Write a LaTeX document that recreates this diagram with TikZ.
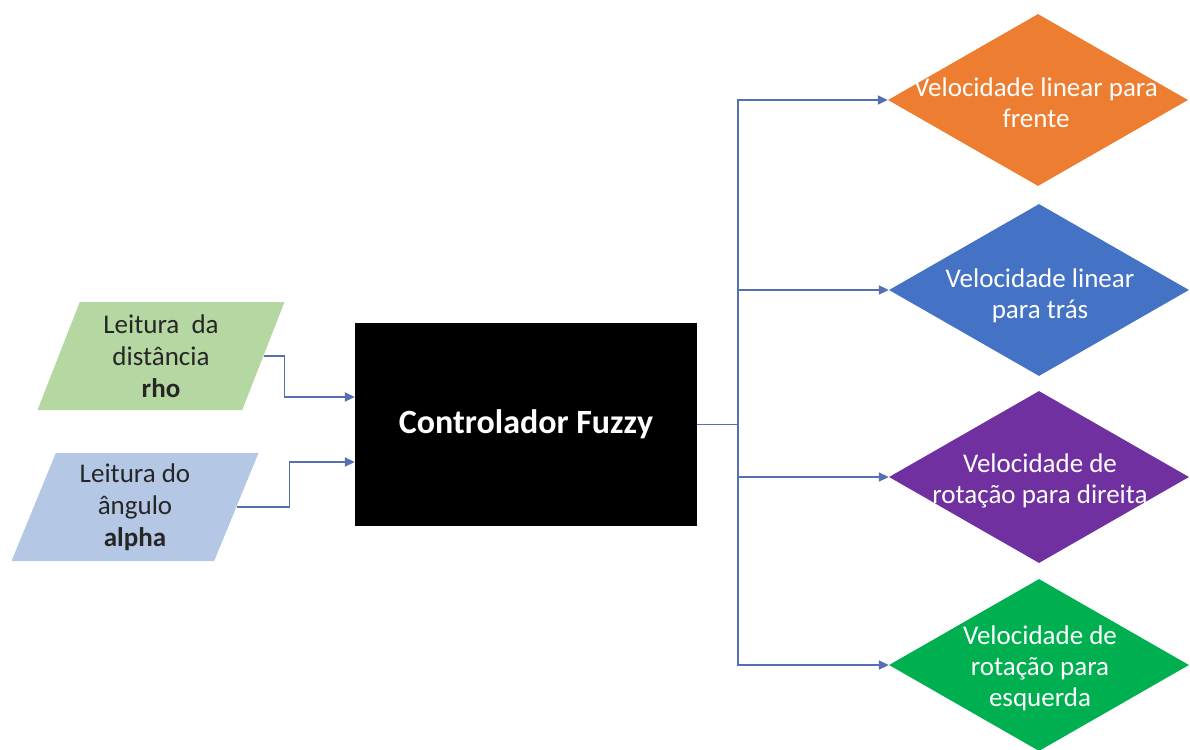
\documentclass[tikz,border=0pt]{standalone}
\usepackage{fontspec}
\setmainfont{Carlito}
\usetikzlibrary{shapes.geometric,arrows.meta}

\definecolor{verdeclaro}{HTML}{B5D7A1}
\definecolor{azulclaro}{HTML}{B4C8E6}
\definecolor{laranja}{HTML}{ED7D31}
\definecolor{azul}{HTML}{4472C4}
\definecolor{roxo}{HTML}{7030A0}
\definecolor{verde}{HTML}{00B050}
\definecolor{linha}{HTML}{5470B0}

\begin{document}
\begin{tikzpicture}[x=1pt, y=-1pt,
		entrada/.style={trapezium, trapezium left angle=63, trapezium right angle=117,
			trapezium stretches body, minimum width=247pt, minimum height=108pt,
			inner sep=0pt, align=center, text=black!85,
			font=\fontsize{27}{32}\selectfont},
		saida/.style={diamond, minimum width=300pt, minimum height=172pt, inner sep=0pt},
		rotulo/.style={align=center, text=white, font=\fontsize{27}{31}\selectfont},
		fio/.style={draw=linha, line width=1.8pt},
		seta/.style={fio, -{Triangle[length=10pt,width=9pt]}}]
		\useasboundingbox (0,0) rectangle (1190,749);
		
		% entradas
		\node[entrada, fill=verdeclaro] (rho) at (161,356) {Leitura\ \ da\\distância\\\textbf{rho}};
		\node[entrada, fill=azulclaro] (alpha) at (135,507) {Leitura do\\ângulo\\\textbf{alpha}};
		
		% controlador
		\node[fill=black, minimum width=342pt, minimum height=203pt, text=white,
			font=\bfseries\fontsize{34}{40}\selectfont] (ctrl) at (526,424.5) {Controlador Fuzzy};
		
		% saidas
		\node[saida, fill=laranja] (vf) at (1038,100) {};
		\node[saida, fill=azul] (vt) at (1039,290) {};
		\node[saida, fill=roxo] (rd) at (1039,477) {};
		\node[saida, fill=verde] (re) at (1039,665) {};
		
		\node[rotulo] (vf-txt) at (1036,103) {Velocidade linear para\\frente};
		\node[rotulo] (vt-txt) at (1040,296) {Velocidade linear\\para trás};
		\node[rotulo] (rd-txt) at (1040,481) {Velocidade de\\rotação para direita};
		\node[rotulo] (re-txt) at (1040,668) {Velocidade de\\rotação para\\esquerda};
		
		% ligacoes
		\draw[seta] (rho.east) -- ++(21,0) |- ([yshift=27.5pt]ctrl.west);
		\draw[seta] (alpha.east) -- ++(53,0) |- ([yshift=-37.5pt]ctrl.west);
		
		\coordinate (bus) at (738,424.5);
		\draw[fio] (ctrl.east) -- (bus);
		\foreach \s in {vf,vt,rd,re}
			\draw[seta] (bus) |- (\s.west);
	\end{tikzpicture}
\end{document}
